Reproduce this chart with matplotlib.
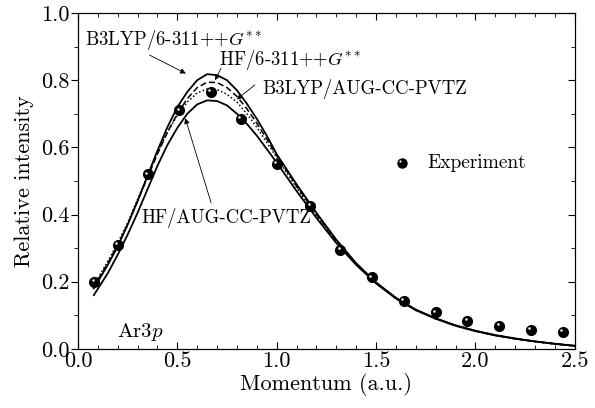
import numpy as np
import matplotlib.pyplot as plt
from matplotlib.ticker import MultipleLocator
from matplotlib import transforms

plt.rcParams['font.family'] = 'serif'
plt.rcParams['font.serif'] = ['cmr10', 'DejaVu Serif']
plt.rcParams['mathtext.fontset'] = 'cm'
plt.rcParams['axes.formatter.use_mathtext'] = True

# momentum grid of the calculated curves
p = [0.08, 0.15, 0.2, 0.25, 0.3, 0.35, 0.4, 0.45, 0.5, 0.55, 0.6, 0.65, 0.7,
     0.75, 0.8, 0.85, 0.9, 0.95, 1.0, 1.1, 1.2, 1.3, 1.4, 1.5, 1.6, 1.7, 1.8,
     1.9, 2.0, 2.1, 2.2, 2.3, 2.4, 2.5]

b3lyp_6311 = [0.18, 0.25, 0.305, 0.37, 0.44, 0.515, 0.59, 0.66, 0.72, 0.765,
              0.80, 0.818, 0.815, 0.80, 0.77, 0.73, 0.685, 0.635, 0.58, 0.49,
              0.405, 0.325, 0.255, 0.198, 0.152, 0.117, 0.091, 0.07, 0.054,
              0.041, 0.031, 0.022, 0.015, 0.009]
hf_6311 = [0.185, 0.255, 0.31, 0.37, 0.44, 0.51, 0.58, 0.645, 0.70, 0.745,
           0.778, 0.794, 0.793, 0.778, 0.752, 0.715, 0.672, 0.625, 0.575, 0.485,
           0.40, 0.322, 0.253, 0.196, 0.151, 0.116, 0.09, 0.069, 0.053,
           0.04, 0.03, 0.022, 0.015, 0.009]
b3lyp_aug = [0.19, 0.26, 0.315, 0.375, 0.445, 0.515, 0.585, 0.645, 0.695, 0.735,
             0.762, 0.774, 0.772, 0.758, 0.735, 0.70, 0.66, 0.615, 0.57, 0.48,
             0.397, 0.32, 0.252, 0.195, 0.15, 0.115, 0.089, 0.068, 0.052,
             0.04, 0.03, 0.021, 0.014, 0.008]
hf_aug = [0.16, 0.225, 0.28, 0.34, 0.405, 0.475, 0.545, 0.607, 0.658, 0.70,
          0.728, 0.74, 0.738, 0.725, 0.70, 0.67, 0.635, 0.595, 0.555, 0.47,
          0.39, 0.315, 0.25, 0.195, 0.15, 0.115, 0.09, 0.069, 0.053,
          0.04, 0.03, 0.022, 0.015, 0.009]

exp_p = [0.083, 0.2, 0.35, 0.51, 0.67, 0.82, 1.0, 1.17, 1.32, 1.48, 1.64,
         1.80, 1.96, 2.12, 2.28, 2.44]
exp_i = [0.20, 0.31, 0.52, 0.71, 0.765, 0.685, 0.55, 0.425, 0.295, 0.213,
         0.142, 0.109, 0.084, 0.068, 0.056, 0.05]

fig = plt.figure(figsize=(5.95, 4.08), dpi=100)
ax = fig.add_axes([0.131, 0.145, 0.835, 0.823])

ax.plot(p, b3lyp_6311, color='black', lw=1.3, ls='-')
ax.plot(p, hf_6311, color='black', lw=1.1, ls=(0, (4, 2)))
ax.plot(p, b3lyp_aug, color='black', lw=1.1, ls=(0, (1, 1.5)))
ax.plot(p, hf_aug, color='black', lw=1.3, ls='-')

# experiment: black balls with a small highlight
hl = transforms.offset_copy(ax.transData, fig=fig, x=-1.2, y=1.2, units='points')
ax.plot(exp_p, exp_i, 'o', color='black', ms=7, zorder=5)
ax.plot(exp_p, exp_i, 'o', color='white', ms=1.8, mec='none', transform=hl, zorder=6)

ax.plot([1.63], [0.553], 'o', color='black', ms=6.5, zorder=5)
ax.plot([1.63], [0.553], 'o', color='white', ms=1.6, mec='none', transform=hl, zorder=6)
ax.text(1.76, 0.553, 'Experiment', fontsize=14, va='center')

arr = dict(arrowstyle='-|>', color='black', lw=0.6, mutation_scale=8,
           shrinkA=0, shrinkB=0)
ax.text(0.035, 0.92, 'B3LYP/6-311++$G^{**}$', fontsize=13.5, va='center')
ax.annotate('', xy=(0.543, 0.82), xytext=(0.36, 0.875), arrowprops=arr)
ax.text(0.709, 0.86, 'HF/6-311++$G^{**}$', fontsize=13.5, va='center')
ax.annotate('', xy=(0.69, 0.80), xytext=(0.72, 0.836), arrowprops=arr)
ax.text(0.93, 0.774, 'B3LYP/AUG-CC-PVTZ', fontsize=13.5, va='center')
ax.annotate('', xy=(0.80, 0.743), xytext=(0.89, 0.786), arrowprops=arr)
ax.text(0.32, 0.39, 'HF/AUG-CC-PVTZ', fontsize=13.5, va='center')
ax.annotate('', xy=(0.54, 0.687), xytext=(0.67, 0.435), arrowprops=arr)

ax.text(0.196, 0.05, 'Ar$3p$', fontsize=15, va='center')

ax.set_xlim(0, 2.5)
ax.set_ylim(0, 1.0)
ax.xaxis.set_major_locator(MultipleLocator(0.5))
ax.xaxis.set_minor_locator(MultipleLocator(0.1))
ax.yaxis.set_major_locator(MultipleLocator(0.2))
ax.yaxis.set_minor_locator(MultipleLocator(0.1))
ax.xaxis.set_major_formatter(plt.FuncFormatter(lambda v, _: '%.1f' % v))
ax.yaxis.set_major_formatter(plt.FuncFormatter(lambda v, _: '%.1f' % v))
ax.tick_params(axis='x', which='both', direction='in', top=True, labelsize=16)
ax.tick_params(axis='x', which='major', length=5, pad=2)
ax.tick_params(axis='x', which='minor', length=3)
ax.tick_params(axis='y', which='both', direction='out', right=False, labelsize=16)
ax.tick_params(axis='y', which='major', length=5, pad=1)
ax.tick_params(axis='y', which='minor', length=3)

ax2 = ax.twinx()
ax2.set_ylim(0, 1.0)
ax2.yaxis.set_major_locator(MultipleLocator(0.2))
ax2.yaxis.set_minor_locator(MultipleLocator(0.1))
ax2.tick_params(axis='y', which='both', direction='in', labelright=False)
ax2.tick_params(axis='y', which='major', length=5)
ax2.tick_params(axis='y', which='minor', length=3)

ax.set_xlabel('Momentum (a.u.)', fontsize=16, labelpad=1)
ax.set_ylabel('Relative intensity', fontsize=16, labelpad=5)

fig.savefig('out.png', dpi=100)
